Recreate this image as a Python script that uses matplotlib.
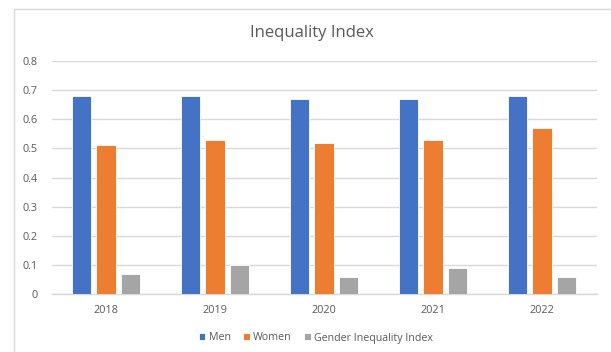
import matplotlib
matplotlib.use("Agg")
import matplotlib.pyplot as plt
from matplotlib.lines import Line2D
import numpy as np

YEARS = ["2018", "2019", "2020", "2021", "2022"]
MEN = [0.68, 0.68, 0.67, 0.67, 0.68]
WOMEN = [0.51, 0.53, 0.52, 0.53, 0.57]
GII = [0.07, 0.10, 0.06, 0.09, 0.06]
SERIES = [("Men", MEN, "#4472C4"), ("Women", WOMEN, "#ED7D31"), ("Gender Inequality Index", GII, "#A5A5A5")]
YTICKS = [0, 0.1, 0.2, 0.3, 0.4, 0.5, 0.6, 0.7, 0.8]

TEXT = "#595959"
GRID = "#D9D9D9"

plt.rcParams.update({"font.family": ["Open Sans", "DejaVu Sans"]})
fig = plt.figure(figsize=(6.11, 3.52), dpi=100)
W, H = 611, 352
ax = fig.add_axes([51.5 / W, 1 - 294 / H, 545 / W, 233 / H])

x = np.arange(len(YEARS))
step = 0.223
width = 0.175
for i, (name, vals, color) in enumerate(SERIES):
    ax.bar(x + (i - 1) * step, vals, width, color=color, edgecolor="white",
           linewidth=0.6, label=name, zorder=3)

ax.set_xlim(-0.5, len(YEARS) - 0.5)
ax.set_ylim(0, 0.8)
ax.set_yticks(YTICKS)
ax.set_yticklabels([f"{v:g}" for v in YTICKS])
ax.set_xticks(x)
ax.set_xticklabels(YEARS)
ax.yaxis.grid(True, color=GRID, linewidth=1, zorder=0)
ax.tick_params(axis="both", length=0, labelsize=7.8, labelcolor=TEXT)
ax.tick_params(axis="x", pad=8)
ax.tick_params(axis="y", pad=10)
for side in ["top", "right", "left"]:
    ax.spines[side].set_visible(False)
ax.spines["bottom"].set_color(GRID)
ax.spines["bottom"].set_linewidth(1)

fig.text(312 / W, 1 - 33 / H, "Inequality Index", ha="center", va="center",
         fontsize=12, color=TEXT)

leg = ax.legend(loc="center", bbox_to_anchor=(316 / W, 1 - 338 / H),
                bbox_transform=fig.transFigure, ncol=3, frameon=False,
                fontsize=7.7, handlelength=0.6, handleheight=0.6,
                handletextpad=0.3, columnspacing=1.2)
for t in leg.get_texts():
    t.set_color(TEXT)

# chart border (cut off at right/bottom)
fig.add_artist(Line2D([14 / W, 14 / W], [0, 1 - 9 / H], transform=fig.transFigure,
                      color=GRID, linewidth=1))
fig.add_artist(Line2D([14 / W, 1], [1 - 9 / H, 1 - 9 / H], transform=fig.transFigure,
                      color=GRID, linewidth=1))

fig.savefig("out.png", dpi=100)
